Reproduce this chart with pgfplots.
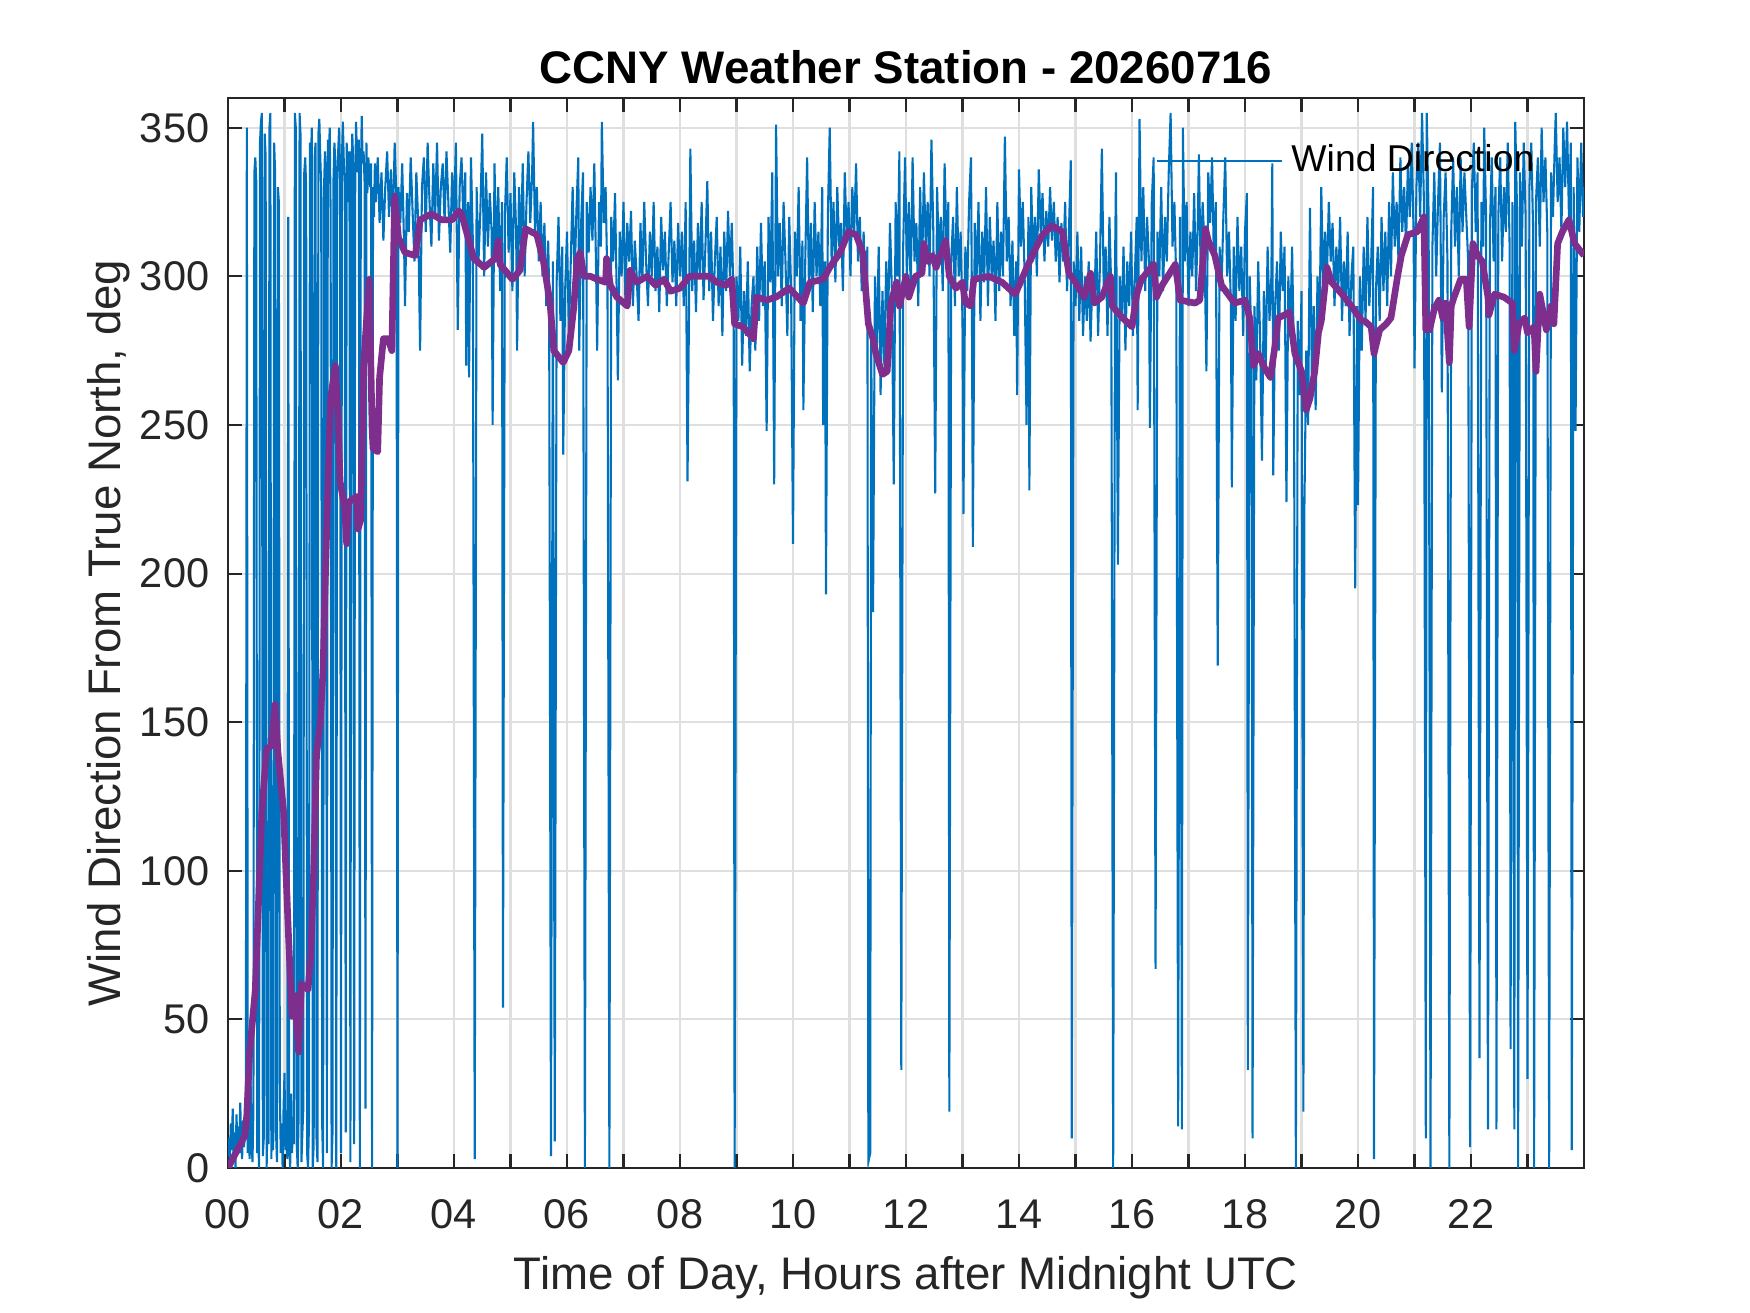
\documentclass[border=0pt]{standalone}
\usepackage{fontspec}
\setmainfont{Liberation Sans}
\usepackage{pgfplots}
\pgfplotsset{compat=1.18}
\definecolor{mblue}{RGB}{0,114,189}
\definecolor{mpurple}{RGB}{126,47,142}
\definecolor{axgray}{RGB}{38,38,38}
\definecolor{gridgray}{RGB}{223,223,223}
\begin{document}
\begin{tikzpicture}
\useasboundingbox (0,0) rectangle (420bp,315.12bp);
\begin{axis}[
  at={(54.72bp,34.8bp)}, anchor=south west,
  scale only axis, width=325.44bp, height=256.8bp,
  xmin=0, xmax=1440, ymin=0, ymax=360,
  xtick={0,60,...,1380},
  xticklabels={00,,02,,04,,06,,08,,10,,12,,14,,16,,18,,20,,22,},
  ytick={0,50,...,350},
  grid=major, major grid style={gridgray, line width=0.5bp},
  axis line style={axgray, line width=0.5bp},
  every tick/.style={axgray, line width=0.5bp},
  tick align=inside, major tick length=3.25bp,
  tick label style={font=\fontsize{10}{12}\selectfont, text=axgray, inner sep=0pt},
  /pgf/number format/assume math mode=true,
  xticklabel style={anchor=north, yshift=-7.4bp},
  yticklabel style={anchor=east, xshift=-4.3bp},
  title={CCNY Weather Station - 20260716},
  every axis title shift=0pt,
  title style={at={(axis description cs:0.5,1.0132)}, anchor=base, yshift=0pt, font=\fontsize{11}{13}\selectfont\bfseries, text=black, inner sep=0pt},
  xlabel={Time of Day, Hours after Midnight UTC},
  xlabel style={at={(axis description cs:0.5,-0.114)}, anchor=base, font=\fontsize{11}{13}\selectfont, text=axgray, inner sep=0pt},
  ylabel={Wind Direction From True North, deg},
  ylabel style={at={(axis description cs:-0.079,0.5)}, anchor=base, font=\fontsize{11}{13}\selectfont, text=axgray, inner sep=0pt},
  legend style={at={(0.964,0.941)}, anchor=east, draw=none, fill=none, font=\fontsize{9}{11}\selectfont, text=black, inner sep=0pt, nodes={inner sep=0pt}, /tikz/every odd column/.append style={column sep=2bp}},
  legend image code/.code={\draw[#1, line width=0.5bp] (0bp,0bp) -- (30bp,0bp);},
]
\addplot[mblue, line width=0.5bp] coordinates {
(0,4) (1,10) (2,2) (3,15) (4,6) (5,20) (6,3) (7,12) (8,0) (9,18) (10,8) (11,14) (12,5) (13,22) (14,9) (15,3) (16,16) (17,7) (18,12) (19,25)
(20,350) (21,5) (22,12) (23,3) (24,30) (25,8) (26,2) (27,20)
(28,335) (29,340) (30,332) (31,5) (32,12) (33,0) (34,345) (35,352) (36,355) (37,4) (38,10) (39,348) (40,340) (41,0) (42,15) (43,8) (44,350) (45,355) (46,3) (47,20) (48,6) (49,345) (50,335) (51,12) (52,2) (53,330) (54,325)
(55,28) (56,5) (57,15) (58,0) (59,20) (60,32) (61,6) (62,18) (63,3) (64,320) (65,10) (66,0) (67,25) (68,5) (69,15) (70,8) (71,355) (72,350) (73,8) (74,0) (75,18) (76,355) (77,348) (78,2) (79,12) (80,20)
(81,335) (82,340) (83,330) (84,5) (85,0) (86,15) (87,345) (88,338) (89,350) (90,0) (91,8) (92,340) (93,345) (94,10) (95,2) (96,348) (97,353) (98,340) (99,330) (100,15) (101,0) (102,330) (103,342) (104,335) (105,5)
(106,346) (107,338) (108,350) (109,320) (110,0) (111,12) (112,332) (113,345) (114,338) (115,0) (116,330) (117,342) (118,350) (119,335) (120,5) (121,340) (122,352) (123,338) (124,330) (125,12) (126,345) (127,336) (128,325) (129,342) (130,2)
(131,330) (132,348) (133,338) (134,8) (135,326) (136,352) (137,340) (138,335) (139,346) (140,0) (141,330) (142,354) (143,338) (144,342) (145,332) (146,20) (147,345) (148,328) (149,340) (150,335) (151,330) (152,338) (153,0) (154,330) (155,320) (156,338)
(157,325) (159,340) (161,318) (163,335) (165,312) (167,330) (169,342) (171,320) (173,336) (175,315) (177,345) (179,325) (180,0) (181,330) (183,318) (185,338) (187,310) (188,290) (190,328) (192,315) (194,340) (196,322) (198,305) (200,335)
(202,318) (204,275) (206,330) (208,340) (210,315) (212,345) (214,325) (216,310) (218,338) (220,320) (222,345) (224,312) (226,330) (228,338) (230,318) (232,342) (234,325) (236,308) (238,335) (240,320) (242,345) (244,282) (246,330) (248,340)
(250,318) (252,335) (253,270) (255,325) (256,266) (258,340) (260,312) (262,3) (264,330) (266,305) (268,322) (270,348) (272,300) (274,335) (276,310) (278,328) (280,315) (281,250) (283,338) (285,305) (287,330) (289,295) (291,325) (292,54) (294,320)
(296,340) (298,308) (300,328) (302,295) (304,335) (306,315) (307,275) (309,330) (311,310) (313,338) (315,300) (317,325) (319,342) (321,318) (323,335) (324,352) (326,315) (328,330) (330,305) (332,325) (334,300) (336,318) (338,290) (340,312) (341,296)
(343,4) (345,305) (347,9) (349,298) (351,320) (353,285) (355,310) (356,240) (358,295) (360,315) (362,280) (364,305) (366,330) (368,298) (370,322) (372,340) (373,275) (375,318) (377,335) (379,0) (381,325) (383,308) (385,330) (387,312) (389,338)
(391,300) (392,275) (394,325) (396,310) (397,352) (399,318) (401,330) (403,296) (405,0) (407,320) (409,305) (411,328) (413,290) (414,265) (416,315) (418,300) (420,325) (422,292) (424,318) (426,305) (428,322) (430,290) (432,312) (434,300) (436,285)
(438,318) (440,298) (442,325) (444,305) (446,290) (448,315) (450,300) (452,325) (454,295) (456,310) (458,288) (460,320) (462,302) (464,315) (466,290) (468,308) (470,325) (472,298) (474,312) (476,290) (478,318) (480,300)
(482,315) (484,290) (486,325) (488,231) (490,305) (491,343) (493,295) (495,312) (497,288) (499,318) (501,300) (503,325) (505,292) (507,310) (509,332) (511,295) (513,315) (515,285) (517,305) (519,320) (521,290) (523,310) (525,280) (527,315) (529,295)
(531,322) (533,300) (535,318) (537,290) (538,0) (540,300) (542,285) (544,310) (546,270) (548,295) (550,280) (552,305) (554,268) (556,290) (558,300) (560,275) (562,310) (564,285) (566,318) (568,290) (570,305) (572,248) (574,320) (576,298) (578,335)
(580,230) (582,351) (584,300) (586,318) (588,290) (590,325) (592,305) (594,280) (596,320) (598,295) (600,210) (602,315) (604,300) (606,330) (608,285) (610,312) (611,255) (613,305) (615,340) (617,295) (619,318) (621,288) (623,325) (625,300) (627,315)
(629,290) (631,330) (632,250) (634,305) (635,193) (637,320) (639,350) (641,305) (643,325) (645,298) (647,330) (649,310) (651,318) (653,295) (655,335) (657,312) (659,325) (661,300) (663,330) (665,315) (667,338) (669,305) (671,320) (673,295) (675,315)
(677,290) (679,310) (680,2) (682,5) (683,280) (685,187) (687,300) (689,275) (691,310) (693,260) (695,295) (697,270) (699,305) (701,285) (703,318) (705,295) (707,230) (709,325) (711,300) (713,342) (715,33) (717,310) (719,340) (721,300)
(723,325) (725,295) (727,340) (729,305) (731,318) (733,290) (735,330) (737,300) (739,335) (741,310) (743,325) (745,300) (747,346) (749,315) (751,227) (753,330) (755,305) (757,320) (759,295) (761,338) (763,310) (765,325) (766,19) (768,305) (770,320)
(772,290) (774,330) (776,300) (778,315) (780,285) (781,220) (783,310) (785,295) (787,325) (789,340) (790,290) (791,209) (793,318) (795,300) (797,325) (799,285) (801,315) (803,298) (805,330) (807,290) (809,320) (811,300) (813,312) (815,285) (817,325)
(819,295) (821,315) (823,300) (825,347) (827,305) (829,320) (831,290) (833,312) (835,280) (837,305) (838,260) (840,336) (842,310) (844,325) (846,300) (848,250) (850,320) (851,228) (853,330) (855,305) (857,320) (859,300) (861,336) (863,315) (865,328)
(867,305) (869,322) (871,310) (873,330) (875,312) (877,325) (879,305) (881,320) (883,298) (885,318) (887,305) (889,325) (891,295) (893,315) (895,339) (896,10) (898,305) (900,290) (902,315) (904,285) (906,310) (908,280) (910,300) (912,285) (914,305)
(916,278) (918,300) (920,290) (922,315) (924,280) (926,305) (928,343) (930,295) (932,310) (934,280) (936,320) (938,295) (940,0) (942,305) (943,335) (945,203) (947,300) (949,285) (951,310) (953,275) (955,305) (957,290) (959,315) (961,280)
(963,300) (965,320) (966,255) (968,353) (970,305) (972,330) (974,295) (976,320) (978,305) (979,249) (981,325) (983,340) (985,67) (987,315) (989,300) (991,330) (993,295) (995,320) (997,305) (999,335) (1001,355) (1003,310) (1005,325) (1007,298) (1009,14)
(1011,320) (1013,13) (1014,350) (1016,305) (1018,325) (1020,290) (1022,315) (1024,300) (1026,328) (1028,295) (1030,320) (1031,341) (1033,300) (1035,325) (1037,310) (1039,268) (1041,335) (1043,318) (1045,340) (1047,305) (1049,325) (1051,169) (1053,310) (1055,295) (1057,320)
(1059,340) (1061,300) (1063,315) (1065,290) (1066,229) (1068,310) (1070,285) (1072,320) (1074,295) (1076,310) (1078,280) (1080,315) (1082,328) (1083,33) (1085,300) (1087,275) (1088,10) (1090,290) (1092,265) (1094,305) (1096,280) (1098,238) (1100,295) (1102,270) (1104,310)
(1106,285) (1108,300) (1109,338) (1110,233) (1112,290) (1114,305) (1116,275) (1118,315) (1120,295) (1122,310) (1124,224) (1126,300) (1128,280) (1130,310) (1132,270) (1134,0) (1136,285) (1138,260) (1140,295) (1142,19) (1143,220) (1145,275) (1147,250) (1149,323) (1151,265)
(1153,290) (1155,255) (1157,300) (1159,280) (1161,330) (1163,295) (1165,315) (1167,300) (1169,325) (1171,305) (1173,318) (1175,290) (1177,310) (1179,295) (1181,320) (1183,285) (1185,305) (1187,290) (1189,315) (1191,280) (1193,300) (1195,310) (1197,195) (1199,290) (1200,223)
(1202,300) (1204,275) (1206,310) (1208,285) (1210,320) (1212,290) (1214,305) (1216,330) (1217,3) (1219,295) (1221,310) (1223,285) (1225,320) (1227,295) (1229,315) (1231,290) (1233,325) (1235,300) (1237,335) (1239,310) (1241,325) (1243,305) (1245,340) (1247,315) (1249,330)
(1251,310) (1253,338) (1255,320) (1257,345) (1259,315) (1260,269) (1262,330) (1264,345) (1266,320) (1268,355) (1270,325) (1272,10) (1273,355) (1275,320) (1277,0) (1279,310) (1281,335) (1283,300) (1285,325) (1287,345) (1289,261) (1291,320) (1293,335) (1295,305) (1297,0)
(1299,315) (1301,340) (1303,310) (1305,330) (1307,300) (1309,340) (1311,315) (1313,335) (1315,320) (1317,305) (1319,7) (1321,330) (1323,345) (1325,315) (1327,335) (1329,37) (1331,325) (1333,310) (1334,350) (1336,320) (1338,13) (1340,315) (1342,340) (1344,305) (1346,330)
(1347,13) (1349,320) (1351,340) (1353,305) (1355,330) (1357,315) (1359,345) (1361,310) (1362,40) (1364,325) (1366,13) (1367,352) (1369,320) (1370,0) (1372,335) (1374,310) (1376,345) (1378,320) (1380,30) (1382,330) (1384,345) (1386,315) (1387,0) (1389,325) (1391,340)
(1393,310) (1395,350) (1397,325) (1399,340) (1401,315) (1403,0) (1405,335) (1407,320) (1409,345) (1410,355) (1412,325) (1414,340) (1416,315) (1418,350) (1420,330) (1422,352) (1424,320) (1426,345) (1427,6) (1429,330) (1431,248) (1433,340) (1435,315) (1437,345) (1439,320) (1440,330)
};
\addlegendentry{Wind Direction}
\addplot[mpurple, line width=1.6bp, line join=round, forget plot] coordinates {
(0,0) (18,11) (20,18) (23,39) (29,60) (36,120) (41,141) (46,142) (50,156) (53,140) (59,120) (64,80) (68,51) (71,58) (75,39) (78,62) (85,60) (88,72) (91,100) (94,139) (98,150) (101,168) (103,194) (107,240) (109,259)
(114,270) (117,252) (119,231) (124,222) (126,210) (128,224) (137,226) (138,215) (141,218) (144,270) (150,299) (153,249) (154,242) (159,241) (161,266) (165,279) (170,279) (174,275) (177,327) (181,313) (188,308) (199,307) (204,319) (216,321) (227,319) (238,319) (245,322)
(248,321) (261,306) (272,303) (284,306) (287,312) (289,304) (302,299) (310,302) (316,316) (328,314) (335,305) (342,291) (346,275) (356,271) (362,275) (367,289) (371,306) (374,308) (378,300) (385,300) (392,299) (401,298) (402,306) (406,297) (413,293) (424,290) (427,302) (434,298) (445,300) (454,297) (463,299) (470,295)
(480,296) (490,300) (497,300) (511,300) (519,298) (529,297) (535,299) (538,284) (547,283) (558,279) (561,293) (572,292) (582,293) (596,296) (611,291) (618,298) (632,299) (639,303) (650,308) (659,315) (667,314) (674,308) (680,284) (685,279) (688,274) (695,267) (700,268) (704,291) (710,298) (713,290) (720,300)
(723,293) (730,300) (737,301) (739,311) (743,305) (748,307) (752,303) (762,312) (766,300) (773,296) (780,298) (783,291) (789,290) (792,299) (808,300) (822,298) (836,294) (847,302) (857,309) (865,314) (875,317) (886,315) (893,301) (900,298) (909,293) (916,301) (920,291) (928,293) (937,300) (939,290) (950,286) (960,283)
(965,294) (970,299) (983,304) (986,293) (992,297) (1006,304) (1011,292) (1027,291) (1032,292) (1038,316) (1041,312) (1048,307) (1055,297) (1062,294) (1069,291) (1080,292) (1085,286) (1089,270) (1094,274) (1101,269) (1107,266) (1112,277) (1115,286) (1122,287) (1127,288) (1133,274) (1140,268) (1145,255) (1149,259) (1154,268) (1158,281) (1161,285) (1167,303) (1172,298) (1183,294) (1193,290) (1204,285)
(1207,285) (1214,283) (1217,274) (1223,282) (1230,284) (1235,286) (1242,300) (1246,307) (1253,314) (1263,315) (1270,320) (1272,282) (1276,282) (1281,289) (1286,292) (1290,286) (1293,291) (1297,271) (1299,290) (1302,293) (1309,299) (1315,299) (1318,283) (1322,311) (1327,307) (1332,305) (1338,293) (1339,287) (1345,294) (1355,293) (1364,291) (1366,275) (1371,284) (1377,286) (1380,281) (1387,283) (1389,268) (1393,294) (1400,282) (1405,290) (1408,284) (1412,311) (1417,315) (1424,319) (1430,311) (1440,307)
};
\end{axis}
\end{tikzpicture}
\end{document}
